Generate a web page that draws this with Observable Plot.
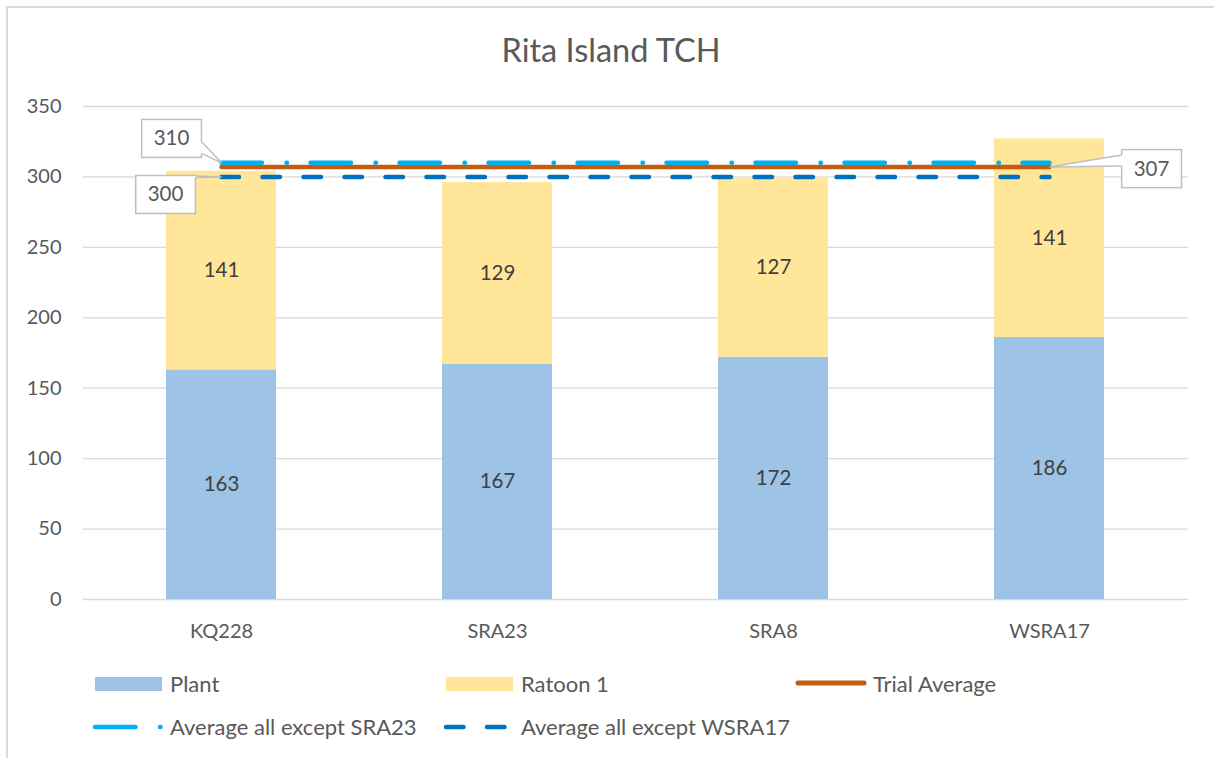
<!DOCTYPE html>
<html>
<head>
<meta charset="utf-8">
<script src="https://cdn.jsdelivr.net/npm/d3@7"></script>
<script src="https://cdn.jsdelivr.net/npm/@observablehq/plot@0.6"></script>
<style>
  body { margin: 0; background: #fff; }
  #wrap { position: relative; width: 1214px; height: 758px; overflow: hidden; font-family: Lato, sans-serif; background:#fff; }
  #frame { position: absolute; left: 6px; top: 6px; width: 1300px; height: 900px; border-left: 2px solid #D9D9D9; border-top: 2px solid #D9D9D9; }
  #title { position: absolute; top: 30px; left: 4px; width: 1214px; text-align: center; font-size: 32.5px; line-height: 1.2; color: #595959; }
</style>
</head>
<body>
<div id="wrap">
  <div id="frame"></div>
  <div id="title">Rita Island TCH</div>
</div>
<script>
// ---- data ----
const varieties = ["KQ228", "SRA23", "SRA8", "WSRA17"];
const plant = [163, 167, 172, 186];
const ratoon1 = [141, 129, 127, 141];
const seriesNames = ["Plant", "Ratoon 1"];
const seriesColors = ["#9DC3E6", "#FFE699"];
const trialAverage = 307;
const avgExceptSRA23 = 310;
const avgExceptWSRA17 = 300;
const yTicks = [0, 50, 100, 150, 200, 250, 300, 350];
const lineNames = ["Trial Average", "Average all except SRA23", "Average all except WSRA17"];

// ---- tables ----
const bars = varieties.flatMap((v, i) => [
  {variety: v, series: seriesNames[0], value: plant[i]},
  {variety: v, series: seriesNames[1], value: ratoon1[i]}
]);
const lineData = val => varieties.map(v => ({variety: v, value: val}));
const callouts = [
  {variety: varieties[0], value: avgExceptSRA23},
  {variety: varieties[0], value: avgExceptWSRA17},
  {variety: varieties[3], value: trialAverage}
];
const calloutOffsets = [[-50, -24], [-56, 18], [102, 2]];

const lightDash = "40.5,24.5,0.5,23.5";
const darkDash = "17.5,23.5";

const chart = Plot.plot({
  width: 1214,
  height: 570,
  marginTop: 16,
  marginBottom: 61,
  marginLeft: 83,
  marginRight: 26,
  style: {fontFamily: "Lato, sans-serif", fontSize: "20px", color: "#595959", background: "transparent", overflow: "visible"},
  x: {domain: varieties, paddingInner: 0.6, paddingOuter: 0.3, label: null, tickSize: 0, tickPadding: 24},
  y: {domain: [0, 350], ticks: yTicks, tickSize: 0, tickPadding: 22, label: null},
  color: {domain: seriesNames, range: seriesColors},
  marks: [
    Plot.ruleY(yTicks, {stroke: "#D9D9D9", strokeWidth: 1.3}),
    Plot.barY(bars, {x: "variety", y: "value", fill: "series"}),
    Plot.text(bars, Plot.stackY({x: "variety", y: "value", z: "series", text: d => String(d.value), fill: "#404040", fontSize: 20.5})),
    Plot.lineY(lineData(trialAverage), {x: "variety", y: "value", stroke: "#C55A11", strokeWidth: 4.5}),
    Plot.lineY(lineData(avgExceptSRA23), {x: "variety", y: "value", stroke: "#00B0F0", strokeWidth: 4.5, strokeDasharray: lightDash, strokeLinecap: "round"}),
    Plot.lineY(lineData(avgExceptWSRA17), {x: "variety", y: "value", stroke: "#0070C0", strokeWidth: 4.5, strokeDasharray: darkDash, strokeLinecap: "round"}),
    Plot.dot(callouts, {x: "variety", y: "value", r: 1, fill: "none", stroke: "none"}),
    ...callouts.map((c, i) => Plot.text([c], {x: "variety", y: "value", text: d => String(d.value), dx: calloutOffsets[i][0], dy: calloutOffsets[i][1], fill: "#595959", fontSize: 20.5}))
  ]
});

const wrap = document.getElementById("wrap");
chart.style.position = "absolute";
chart.style.left = "0px";
chart.style.top = "90px";
wrap.appendChild(chart);

// ---- callout boxes drawn around the library-placed labels ----
const ns = "http://www.w3.org/2000/svg";
const sr = chart.getBoundingClientRect();
const tgroups = Array.from(chart.querySelectorAll('g[aria-label="text"]'));
const calloutGroups = tgroups.slice(-3);
const dotEls = chart.querySelectorAll('g[aria-label="dot"] > *');
const layer = document.createElementNS(ns, "g");
calloutGroups[0].parentNode.insertBefore(layer, calloutGroups[0]);
calloutGroups.forEach((g, i) => {
  const tb = g.querySelector("text").getBoundingClientRect();
  const db = dotEls[i].getBoundingClientRect();
  const ax = db.x + db.width / 2 - sr.x, ay = db.y + db.height / 2 - sr.y;
  const cx = tb.x + tb.width / 2 - sr.x, cy = tb.y + tb.height / 2 - sr.y + 1;
  const w = tb.width + 24, h = 38;
  const x0 = cx - w / 2, y0 = cy - h / 2, x1 = x0 + w, y1 = y0 + h;
  const left = ax < x0;
  const ex = left ? x0 : x1;
  const inx = left ? ex + 2 : ex - 2;
  let b1, b2;
  if (ay > y1) { b1 = y1 - 16; b2 = y1 - 4; }
  else if (ay < y0) { b1 = y0 + 4; b2 = y0 + 16; }
  else { b1 = Math.max(y0 + 2, ay - 12); b2 = Math.min(y1 - 2, ay - 1); }
  const rect = document.createElementNS(ns, "rect");
  rect.setAttribute("x", x0); rect.setAttribute("y", y0);
  rect.setAttribute("width", w); rect.setAttribute("height", h);
  rect.setAttribute("fill", "#fff"); rect.setAttribute("stroke", "#BFBFBF"); rect.setAttribute("stroke-width", 1.5);
  layer.appendChild(rect);
  const poly = document.createElementNS(ns, "polygon");
  poly.setAttribute("points", `${inx},${b1} ${ex},${b1} ${ax},${ay} ${ex},${b2} ${inx},${b2}`);
  poly.setAttribute("fill", "#fff");
  layer.appendChild(poly);
  const edge = document.createElementNS(ns, "path");
  edge.setAttribute("d", `M${ex},${b1}L${ax},${ay}L${ex},${b2}`);
  edge.setAttribute("fill", "none"); edge.setAttribute("stroke", "#BFBFBF"); edge.setAttribute("stroke-width", 1.5);
  edge.setAttribute("stroke-linejoin", "miter");
  layer.appendChild(edge);
});

// ---- legend ----
const leg = d3.create("svg")
  .attr("width", 1214).attr("height", 98)
  .style("position", "absolute").style("left", "0px").style("top", "660px")
  .style("font-family", "Lato, sans-serif").style("font-size", "22px");
const r1 = 24, r2 = 67;
leg.append("rect").attr("x", 95).attr("y", r1 - 7).attr("width", 67).attr("height", 14).attr("fill", seriesColors[0]);
leg.append("text").attr("x", 170).attr("y", r1 + 8).attr("fill", "#595959").text(seriesNames[0]);
leg.append("rect").attr("x", 446).attr("y", r1 - 7).attr("width", 67).attr("height", 14).attr("fill", seriesColors[1]);
leg.append("text").attr("x", 521).attr("y", r1 + 8).attr("fill", "#595959").text(seriesNames[1]);
leg.append("line").attr("x1", 798).attr("x2", 864).attr("y1", r1 - 1).attr("y2", r1 - 1)
  .attr("stroke", "#C55A11").attr("stroke-width", 5).attr("stroke-linecap", "round");
leg.append("text").attr("x", 873).attr("y", r1 + 8).attr("fill", "#595959").text(lineNames[0]);
leg.append("line").attr("x1", 95).attr("x2", 162).attr("y1", r2).attr("y2", r2)
  .attr("stroke", "#00B0F0").attr("stroke-width", 4.5).attr("stroke-linecap", "round").attr("stroke-dasharray", lightDash);
leg.append("text").attr("x", 170).attr("y", r2 + 8).attr("fill", "#595959").text(lineNames[1]);
leg.append("line").attr("x1", 446).attr("x2", 512).attr("y1", r2).attr("y2", r2)
  .attr("stroke", "#0070C0").attr("stroke-width", 4.5).attr("stroke-linecap", "round").attr("stroke-dasharray", darkDash);
leg.append("text").attr("x", 521).attr("y", r2 + 8).attr("fill", "#595959").text(lineNames[2]);
wrap.appendChild(leg.node());
</script>
</body>
</html>
